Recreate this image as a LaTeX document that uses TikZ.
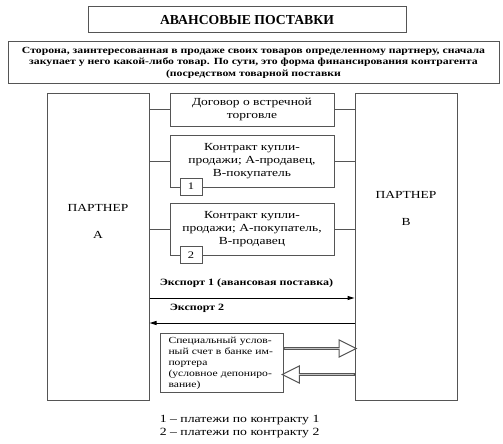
\documentclass[tikz,border=0pt]{standalone}
\usepackage{fontspec}
\setmainfont{Liberation Serif}[FakeStretch=1.25]
\newfontfamily\plainfont{Liberation Serif}
\usetikzlibrary{arrows.meta, shapes.arrows, calc}
\definecolor{cline}{HTML}{555555}
\tikzset{
  every picture/.style={line width=1pt, x=1pt, y=-1pt},
  box/.style={draw=cline, fill=white, align=center, inner sep=2pt},
  link/.style={draw=cline},
  arrow/.style={-{Triangle[length=7pt, width=4pt]}, draw=black, line width=1pt},
  bigarrow/.style={draw=cline, fill=white, single arrow, single arrow head extend=4pt,
    single arrow tip angle=53, minimum height=72pt, minimum width=17pt, inner sep=0pt},
  title/.style={font=\plainfont\fontsize{13.7}{15}\selectfont\bfseries},
  note/.style={font=\fontsize{9.4}{11.5}\selectfont\bfseries, align=center},
  txt/.style={font=\fontsize{10.8}{13}\selectfont},
  small/.style={font=\fontsize{9.3}{11}\selectfont, align=left},
}

\begin{document}
\begin{tikzpicture}
  \useasboundingbox (0,0) rectangle (503,444);
  % header
  \node[box, title, minimum width=318pt, minimum height=26pt] (head) at (247,20) {АВАНСОВЫЕ ПОСТАВКИ};
  \node[box, note, minimum width=491pt, minimum height=41pt] (desc) at (253.5,62.5)
    {Сторона, заинтересованная в продаже своих товаров определенному партнеру, сначала\\
     закупает у него какой-либо товар. По сути, это форма финансирования контрагента\\
     (посредством товарной поставки};
  % partners
  \node[box, minimum width=102pt, minimum height=307pt] (pa) at (98,246.5) {};
  \node[box, minimum width=102pt, minimum height=307pt] (pb) at (406,246.5) {};
  \node[txt, align=center] (pal) at (98,221) {ПАРТНЕР\\[14pt]А};
  \node[txt, align=center] (pbl) at (406,208) {ПАРТНЕР\\[14pt]В};
  % contracts
  \node[box, txt, minimum width=164pt, minimum height=33pt] (dog) at (252,109.5) {Договор о встречной\\торговле};
  \node[box, txt, minimum width=164pt, minimum height=52pt] (k1) at (252,161) {Контракт купли-\\продажи; А-продавец,\\В-покупатель};
  \node[box, txt, minimum width=164pt, minimum height=52pt] (k2) at (252,229) {Контракт купли-\\продажи; А-покупатель,\\В-продавец};
  \node[box, font=\fontsize{10}{12}\selectfont, minimum width=22pt, minimum height=17pt] (n1) at (191,186.5) {1};
  \node[box, font=\fontsize{10}{12}\selectfont, minimum width=22pt, minimum height=17pt] (n2) at (191,255) {2};
  \foreach \k in {dog, k1, k2} {
    \draw[link] (pa.east |- \k) -- (\k.west);
    \draw[link] (\k.east) -- (pb.west |- \k);
  }
  % exports
  \coordinate (ex1) at (0,298);
  \coordinate (ex2) at (0,323);
  \node[note, font=\fontsize{9.6}{11.5}\selectfont\bfseries, anchor=west] (ex1l) at (156,283) {Экспорт 1 (авансовая поставка)};
  \node[note, font=\fontsize{9.6}{11.5}\selectfont\bfseries, anchor=west] (ex2l) at (166,308) {Экспорт 2};
  \draw[arrow] (pa.east |- ex1) -- (pb.west |- ex1);
  \draw[arrow] (pb.west |- ex2) -- (pa.east |- ex2);
  % escrow account
  \node[box, small, minimum width=123pt, minimum height=59pt, anchor=north west, text width=107pt, inner xsep=8pt] (sp) at (160,333)
    {Специальный услов-\\ный счет в банке им-\\портера\\(условное депониро-\\вание)};
  \coordinate (ar1) at (0,348.5);
  \coordinate (ar2) at (0,374.5);
  \node[bigarrow] (up) at ($(sp.east |- ar1)!0.5!(pb.west |- ar1)$) {};
  \node[bigarrow, shape border rotate=180] (down) at ($(sp.east |- ar2)!0.5!(pb.west |- ar2)$) {};
  % legend
  \node[font=\fontsize{11}{13}\selectfont, anchor=west] (leg1) at (156,420) {1 – платежи по контракту 1};
  \node[font=\fontsize{11}{13}\selectfont, anchor=west] (leg2) at (156,433) {2 – платежи по контракту 2};
\end{tikzpicture}
\end{document}
